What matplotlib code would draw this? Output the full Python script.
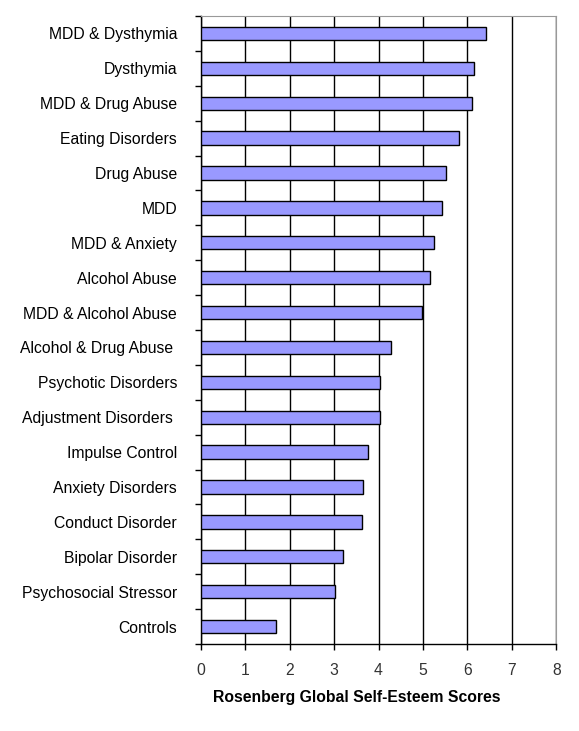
import numpy as np
import matplotlib.pyplot as plt

plt.rcParams['font.family'] = ['Liberation Sans', 'DejaVu Sans']

# categories listed top to bottom
groups = ['MDD & Dysthymia', 'Dysthymia', 'MDD & Drug Abuse', 'Eating Disorders',
          'Drug Abuse', 'MDD', 'MDD & Anxiety', 'Alcohol Abuse', 'MDD & Alcohol Abuse',
          'Alcohol & Drug Abuse ', 'Psychotic Disorders', 'Adjustment Disorders ',
          'Impulse Control', 'Anxiety Disorders', 'Conduct Disorder', 'Bipolar Disorder',
          'Psychosocial Stressor', 'Controls']
scores = [6.42, 6.15, 6.11, 5.82, 5.52, 5.43, 5.25, 5.16, 4.98,
          4.29, 4.04, 4.04, 3.77, 3.66, 3.64, 3.21, 3.03, 1.70]

fig = plt.figure(figsize=(5.79, 7.31), dpi=100)
ax = fig.add_axes([200.7/579, 1-644/731, 355.6/579, 628/731])

n = len(groups)
ypos = np.arange(n)[::-1]
ax.barh(ypos, scores, height=0.38, color='#9999FF', edgecolor='black', linewidth=1, zorder=3)

ax.set_xlim(0, 8)
ax.set_ylim(-0.5, n-0.5)
ax.set_xticks(range(0, 9))
ax.grid(axis='x', color='black', linewidth=1, zorder=0)
ax.set_axisbelow(True)

# labels at category centres, tick marks between categories
ax.set_yticks(ypos)
ax.set_yticklabels(groups, fontsize=11.3)
ax.tick_params(axis='y', length=0, pad=17)
ax.set_yticks(np.arange(-0.5, n, 1), minor=True)
ax.tick_params(axis='y', which='minor', length=4, direction='out', width=1)
ax.tick_params(axis='x', length=4, direction='out', width=1, labelsize=11.3,
               labelcolor='#333333', pad=10)

for s in ['top', 'right']:
    ax.spines[s].set_color('#999999')
for s in ['left', 'bottom']:
    ax.spines[s].set_color('black')
    ax.spines[s].set_linewidth(1)

ax.set_xlabel('Rosenberg Global Self-Esteem Scores', fontsize=11.3, fontweight='bold',
              labelpad=8, x=0.44)

fig.savefig('out.png', dpi=100)
